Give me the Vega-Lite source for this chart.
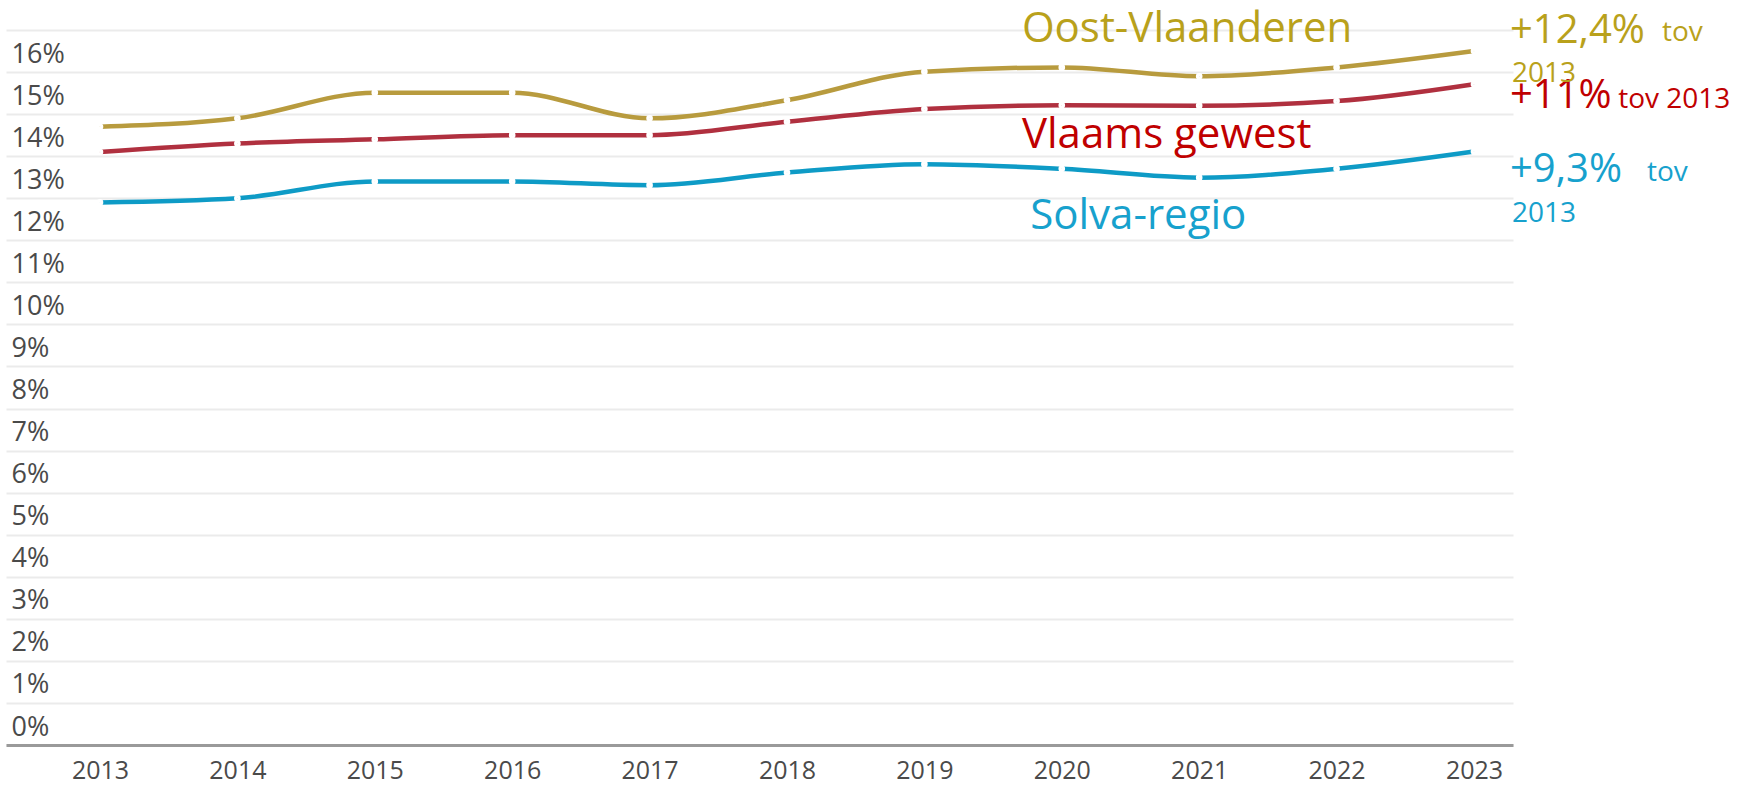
{
  "$schema": "https://vega.github.io/schema/vega-lite/v6.json",
  "autosize": "none",
  "width": 1507,
  "height": 715,
  "padding": {"left": 6, "top": 30, "right": 235, "bottom": 41},
  "background": "white",
  "config": {"view": {"stroke": null}, "font": "Open Sans"},
  "datasets": {
    "reeksen": [
      {"reeks": "Oost-Vlaanderen", "jaar": 2013, "waarde": 14.70},
      {"reeks": "Oost-Vlaanderen", "jaar": 2014, "waarde": 14.90},
      {"reeks": "Oost-Vlaanderen", "jaar": 2015, "waarde": 15.51},
      {"reeks": "Oost-Vlaanderen", "jaar": 2016, "waarde": 15.51},
      {"reeks": "Oost-Vlaanderen", "jaar": 2017, "waarde": 14.90},
      {"reeks": "Oost-Vlaanderen", "jaar": 2018, "waarde": 15.33},
      {"reeks": "Oost-Vlaanderen", "jaar": 2019, "waarde": 16.01},
      {"reeks": "Oost-Vlaanderen", "jaar": 2020, "waarde": 16.11},
      {"reeks": "Oost-Vlaanderen", "jaar": 2021, "waarde": 15.90},
      {"reeks": "Oost-Vlaanderen", "jaar": 2022, "waarde": 16.11},
      {"reeks": "Oost-Vlaanderen", "jaar": 2023, "waarde": 16.50},
      {"reeks": "Vlaams gewest", "jaar": 2013, "waarde": 14.10},
      {"reeks": "Vlaams gewest", "jaar": 2014, "waarde": 14.30},
      {"reeks": "Vlaams gewest", "jaar": 2015, "waarde": 14.40},
      {"reeks": "Vlaams gewest", "jaar": 2016, "waarde": 14.50},
      {"reeks": "Vlaams gewest", "jaar": 2017, "waarde": 14.50},
      {"reeks": "Vlaams gewest", "jaar": 2018, "waarde": 14.82},
      {"reeks": "Vlaams gewest", "jaar": 2019, "waarde": 15.12},
      {"reeks": "Vlaams gewest", "jaar": 2020, "waarde": 15.21},
      {"reeks": "Vlaams gewest", "jaar": 2021, "waarde": 15.20},
      {"reeks": "Vlaams gewest", "jaar": 2022, "waarde": 15.31},
      {"reeks": "Vlaams gewest", "jaar": 2023, "waarde": 15.71},
      {"reeks": "Solva-regio", "jaar": 2013, "waarde": 12.90},
      {"reeks": "Solva-regio", "jaar": 2014, "waarde": 13.00},
      {"reeks": "Solva-regio", "jaar": 2015, "waarde": 13.40},
      {"reeks": "Solva-regio", "jaar": 2016, "waarde": 13.40},
      {"reeks": "Solva-regio", "jaar": 2017, "waarde": 13.31},
      {"reeks": "Solva-regio", "jaar": 2018, "waarde": 13.61},
      {"reeks": "Solva-regio", "jaar": 2019, "waarde": 13.81},
      {"reeks": "Solva-regio", "jaar": 2020, "waarde": 13.70},
      {"reeks": "Solva-regio", "jaar": 2021, "waarde": 13.49},
      {"reeks": "Solva-regio", "jaar": 2022, "waarde": 13.70},
      {"reeks": "Solva-regio", "jaar": 2023, "waarde": 14.11}
    ],
    "namen": [
      {"reeks": "Oost-Vlaanderen", "tekst": "Oost-Vlaanderen", "jaar": 2019.71, "waarde": 17.03},
      {"reeks": "Vlaams gewest", "tekst": "Vlaams gewest", "jaar": 2019.71, "waarde": 14.50},
      {"reeks": "Solva-regio", "tekst": "Solva-regio", "jaar": 2019.77, "waarde": 12.58}
    ],
    "groei": [
      {"reeks": "Oost-Vlaanderen", "tekst": "+12,4%", "jaar": 2023.262, "waarde": 16.98},
      {"reeks": "Vlaams gewest", "tekst": "+11%", "jaar": 2023.262, "waarde": 15.43},
      {"reeks": "Solva-regio", "tekst": "+9,3%", "jaar": 2023.262, "waarde": 13.67}
    ],
    "tov": [
      {"reeks": "Oost-Vlaanderen", "tekst": "tov", "jaar": 2024.368, "waarde": 16.93},
      {"reeks": "Oost-Vlaanderen", "tekst": "2013", "jaar": 2023.277, "waarde": 15.95},
      {"reeks": "Vlaams gewest", "tekst": "tov 2013", "jaar": 2024.05, "waarde": 15.34},
      {"reeks": "Solva-regio", "tekst": "tov", "jaar": 2024.259, "waarde": 13.60},
      {"reeks": "Solva-regio", "tekst": "2013", "jaar": 2023.277, "waarde": 12.62}
    ]
  },
  "layer": [
    {
      "data": {"name": "reeksen"},
      "mark": {"type": "line", "interpolate": "monotone", "strokeWidth": 4.5},
      "encoding": {
        "x": {
          "field": "jaar", "type": "quantitative",
          "scale": {"domain": [2012.316, 2023.284], "nice": false, "zero": false},
          "axis": {
            "title": null, "values": [2013, 2014, 2015, 2016, 2017, 2018, 2019, 2020, 2021, 2022, 2023],
            "format": "d", "grid": false, "ticks": false, "domainColor": "#9a9a9a", "domainWidth": 3,
            "labelFontSize": 25, "labelColor": "#4a4a4a", "labelPadding": 13, "labelFlush": false
          }
        },
        "y": {
          "field": "waarde", "type": "quantitative",
          "scale": {"domain": [0, 17], "nice": false},
          "axis": {
            "title": null, "values": [0, 1, 2, 3, 4, 5, 6, 7, 8, 9, 10, 11, 12, 13, 14, 15, 16, 17],
            "labelExpr": "datum.value == 17 ? '' : datum.value + '%'",
            "domain": false, "ticks": false, "gridColor": "#ebebeb", "gridWidth": 2,
            "labelAlign": "left", "labelBaseline": "alphabetic", "labelPadding": -5, "labelOffset": -10,
            "labelFontSize": 27, "labelColor": "#4a4a4a", "labelFlush": false
          }
        },
        "color": {
          "field": "reeks", "type": "nominal", "legend": null,
          "scale": {"domain": ["Oost-Vlaanderen", "Vlaams gewest", "Solva-regio"], "range": ["#b89b3e", "#b0303f", "#0e9bc6"]}
        }
      }
    },
    {
      "data": {"name": "reeksen"},
      "mark": {"type": "point", "filled": true, "size": 10, "stroke": "white", "strokeWidth": 3.5, "opacity": 1},
      "encoding": {
        "x": {"field": "jaar", "type": "quantitative"},
        "y": {"field": "waarde", "type": "quantitative"},
        "fill": {
          "field": "reeks", "type": "nominal", "legend": null,
          "scale": {"domain": ["Oost-Vlaanderen", "Vlaams gewest", "Solva-regio"], "range": ["#b89b3e", "#b0303f", "#0e9bc6"]}
        }
      }
    },
    {
      "data": {"name": "namen"},
      "mark": {"type": "text", "align": "left", "baseline": "middle", "fontSize": 42, "clip": false},
      "encoding": {
        "x": {"field": "jaar", "type": "quantitative"},
        "y": {"field": "waarde", "type": "quantitative"},
        "text": {"field": "tekst"},
        "color": {
          "field": "reeks", "type": "nominal", "legend": null,
          "scale": {"domain": ["Oost-Vlaanderen", "Vlaams gewest", "Solva-regio"], "range": ["#b9a11b", "#c00000", "#17a1cd"]}
        }
      }
    },
    {
      "data": {"name": "groei"},
      "mark": {"type": "text", "align": "left", "baseline": "middle", "fontSize": 40, "clip": false},
      "encoding": {
        "x": {"field": "jaar", "type": "quantitative"},
        "y": {"field": "waarde", "type": "quantitative"},
        "text": {"field": "tekst"},
        "color": {
          "field": "reeks", "type": "nominal", "legend": null,
          "scale": {"domain": ["Oost-Vlaanderen", "Vlaams gewest", "Solva-regio"], "range": ["#b9a11b", "#c00000", "#17a1cd"]}
        }
      }
    },
    {
      "data": {"name": "tov"},
      "mark": {"type": "text", "align": "left", "baseline": "middle", "fontSize": 28, "clip": false},
      "encoding": {
        "x": {"field": "jaar", "type": "quantitative"},
        "y": {"field": "waarde", "type": "quantitative"},
        "text": {"field": "tekst"},
        "color": {
          "field": "reeks", "type": "nominal", "legend": null,
          "scale": {"domain": ["Oost-Vlaanderen", "Vlaams gewest", "Solva-regio"], "range": ["#b9a11b", "#c00000", "#17a1cd"]}
        }
      }
    }
  ],
  "resolve": {"scale": {"color": "independent", "fill": "independent"}}
}
